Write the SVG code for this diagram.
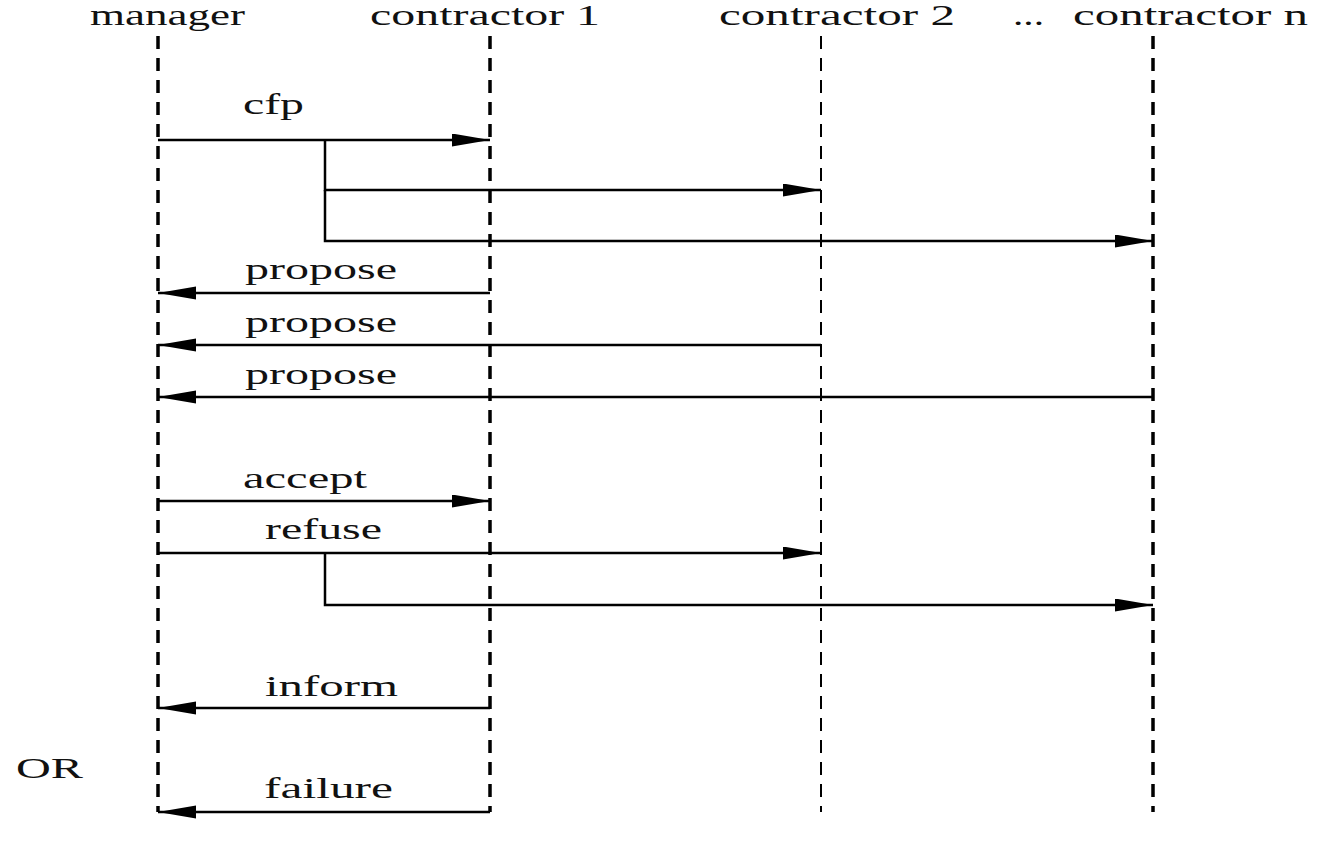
<svg xmlns="http://www.w3.org/2000/svg" width="1326" height="846" viewBox="0 0 1326 846">
<style>
text{font-family:"Liberation Serif","Times New Roman",serif;font-size:30px;fill:#111}
.life{stroke:#000;fill:none;stroke-dasharray:13 9}
.msg{stroke:#000;stroke-width:2.5;fill:none}
.arr{marker-end:url(#ah)}
</style>
<defs>
<marker id="ah" markerUnits="userSpaceOnUse" markerWidth="40" markerHeight="14" refX="38" refY="6.5" orient="auto">
<path d="M0,0 L38,6.5 L0,13 Z" fill="#000"/>
</marker>
</defs>
<rect width="1326" height="846" fill="#fff"/>
<g id="manager">
<text x="90" y="25" textLength="155" lengthAdjust="spacingAndGlyphs">manager</text>
<line class="life" x1="158" y1="36" x2="158" y2="812" stroke-width="3.5"/>
</g>
<g id="contractor1">
<text x="370" y="25" textLength="230" lengthAdjust="spacingAndGlyphs">contractor 1</text>
<line class="life" x1="490" y1="36" x2="490" y2="812" stroke-width="3.5"/>
</g>
<g id="contractor2">
<text x="719" y="25" textLength="236" lengthAdjust="spacingAndGlyphs">contractor 2</text>
<line class="life" x1="821" y1="36" x2="821" y2="812" stroke-width="2"/>
</g>
<g id="contractorn">
<text x="1013" y="25" textLength="31" lengthAdjust="spacingAndGlyphs">...</text>
<text x="1073" y="25" textLength="235" lengthAdjust="spacingAndGlyphs">contractor n</text>
<line class="life" x1="1153" y1="36" x2="1153" y2="812" stroke-width="3.5"/>
</g>
<g id="or-label">
<text x="16" y="778" textLength="67" lengthAdjust="spacingAndGlyphs">OR</text>
</g>
<g id="connectors">
<path class="msg arr" d="M158,140 H490"/>
<path class="msg arr" d="M325,140 V190 H821"/>
<path class="msg arr" d="M325,190 V241 H1153"/>
<path class="msg arr" d="M490,293 H158"/>
<path class="msg arr" d="M821,345 H158"/>
<path class="msg arr" d="M1153,397 H158"/>
<path class="msg arr" d="M158,501 H490"/>
<path class="msg arr" d="M158,553 H821"/>
<path class="msg arr" d="M325,553 V605 H1153"/>
<path class="msg arr" d="M490,708 H158"/>
<path class="msg arr" d="M490,812 H158"/>
</g>
<g id="labels">
<text x="243" y="114" textLength="61" lengthAdjust="spacingAndGlyphs">cfp</text>
<text x="245" y="279" textLength="152" lengthAdjust="spacingAndGlyphs">propose</text>
<text x="245" y="332" textLength="152" lengthAdjust="spacingAndGlyphs">propose</text>
<text x="245" y="384" textLength="152" lengthAdjust="spacingAndGlyphs">propose</text>
<text x="243" y="488" textLength="124" lengthAdjust="spacingAndGlyphs">accept</text>
<text x="265" y="539" textLength="117" lengthAdjust="spacingAndGlyphs">refuse</text>
<text x="265" y="696" textLength="133" lengthAdjust="spacingAndGlyphs">inform</text>
<text x="264" y="798" textLength="129" lengthAdjust="spacingAndGlyphs">failure</text>
</g>
</svg>
